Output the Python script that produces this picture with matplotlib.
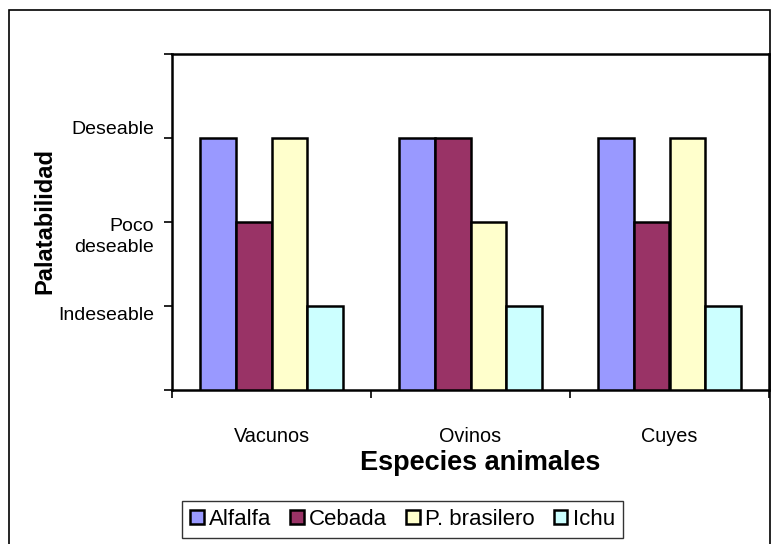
import matplotlib
matplotlib.use("Agg")
import matplotlib.pyplot as plt
from matplotlib.patches import Patch, Rectangle
from matplotlib.transforms import blended_transform_factory, offset_copy
import numpy as np

plt.rcParams['font.family'] = ['Liberation Sans', 'DejaVu Sans']

categories = ["Vacunos", "Ovinos", "Cuyes"]
series_names = ["Alfalfa", "Cebada", "P. brasilero", "Ichu"]
alfalfa = [3, 3, 3]
cebada = [2, 3, 2]
p_brasilero = [3, 2, 3]
ichu = [1, 1, 1]
series_values = [alfalfa, cebada, p_brasilero, ichu]
colors = ["#9999FF", "#993366", "#FFFFCC", "#CCFFFF"]
ytick_values = [1, 2, 3]
ytick_labels = ["Indeseable", "Poco\ndeseable", "Deseable"]
ylabel = "Palatabilidad"
xlabel = "Especies animales"

W, H = 771, 544
fig = plt.figure(figsize=(W / 100, H / 100), dpi=100)
ax = fig.add_axes([172 / W, 1 - 390 / H, 597 / W, 336 / H])

x = np.arange(len(categories))
bw = 0.18
for i, (vals, c) in enumerate(zip(series_values, colors)):
    ax.bar(x + (i - 1.5) * bw, vals, width=bw, color=c, edgecolor="black",
           linewidth=1.8, zorder=3)

ax.set_xlim(-0.5, len(categories) - 0.5)
ax.set_ylim(0, 4)

for s in ax.spines.values():
    s.set_linewidth(1.8)
    s.set_color("black")

# y ticks
ax.set_yticks([0, 1, 2, 3, 4])
ax.set_yticklabels([])
ax.tick_params(axis="y", direction="out", length=6, width=1.2)
tr = blended_transform_factory(ax.transAxes, ax.transData)
label_dy = {"Indeseable": -7, "Poco\ndeseable": -10.5, "Deseable": 6}
for v, lab in zip(ytick_values, ytick_labels):
    t = offset_copy(tr, fig=fig, x=-13, y=label_dy[lab], units="points")
    ax.text(0, v, lab, transform=t, ha="right", va="center",
            multialignment="right", fontsize=14, linespacing=1.3)

# x ticks: boundaries (major), labels (minor)
ax.set_xticks(np.arange(-0.5, len(categories), 1.0))
ax.set_xticklabels([])
ax.tick_params(axis="x", which="major", direction="out", length=6, width=1.2)
ax.set_xticks(x, minor=True)
ax.set_xticklabels(categories, minor=True, fontsize=14.3)
ax.tick_params(axis="x", which="minor", length=0, pad=26.5)

fig.text(45 / W, 1 - 221 / H, ylabel, rotation=90, ha="center", va="center",
         fontsize=17, fontweight="bold")
fig.text(480 / W, 1 - 463 / H, xlabel, ha="center", va="center",
         fontsize=19.5, fontweight="bold")

handles = [Patch(facecolor=c, edgecolor="black", linewidth=1.8) for c in colors]
leg = fig.legend(handles, series_names, loc="center",
                 bbox_to_anchor=(402.5 / W, 1 - 519.5 / H), ncol=4, fontsize=16,
                 frameon=True, fancybox=False, shadow=False,
                 handlelength=0.6, handleheight=0.6, handletextpad=0.25,
                 columnspacing=0.85, borderpad=0.35, borderaxespad=0)
leg.get_frame().set_edgecolor("black")
leg.get_frame().set_linewidth(1.0)

fig.patches.append(Rectangle((9 / W, -0.02), (770 - 9) / W, 1 - 10 / H + 0.02,
                             transform=fig.transFigure, fill=False,
                             edgecolor="black", linewidth=1.2, figure=fig))

fig.savefig("out.png", dpi=100)
